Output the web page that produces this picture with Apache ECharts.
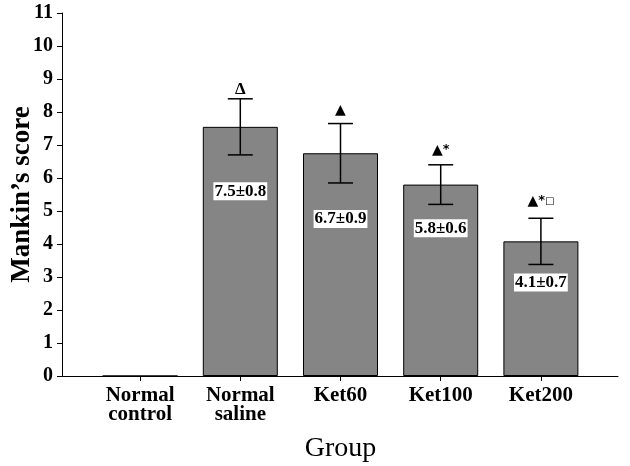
<!DOCTYPE html>
<html>
<head>
<meta charset="utf-8">
<script src="https://cdn.jsdelivr.net/npm/echarts@6/dist/echarts.min.js"></script>
<style>html,body{margin:0;padding:0;background:#fff}#c{width:630px;height:466px}</style>
</head>
<body>
<div id="c"></div>
<script>
const categories = ['Normal\ncontrol', 'Normal\nsaline', 'Ket60', 'Ket100', 'Ket200'];
const means = [0, 7.55, 6.75, 5.8, 4.08];
const errors = [0, 0.85, 0.9, 0.6, 0.7];
const meanLabels = ['', '7.5±0.8', '6.7±0.9', '5.8±0.6', '4.1±0.7'];
const meanLabelAt = [null, 5.6, 4.76, 4.48, 2.83];
const sigMarks = [[], ['d'], ['t'], ['t', 's'], ['t', 's', 'q']];
const sigMarkAt = [null, 8.68, 8.04, 6.85, 5.3];
const yMin = 0, yMax = 11, yStep = 1;

const serif = '"Liberation Serif", "Times New Roman", serif';
const chart = echarts.init(document.getElementById('c'), null, {renderer: 'canvas'});

const markText = { d: '{d|Δ}', t: '{t|▲}', s: '{s|*}', q: '{q|□}' };

const option = {
  animation: false,
  backgroundColor: '#fff',
  grid: [
    {left: 90, right: 39, top: 13, bottom: 90, outerBoundsMode: 'none', containLabel: false},
    {left: 62, right: 12, top: 13, bottom: 90, outerBoundsMode: 'none', containLabel: false}
  ],
  xAxis: [
    {
      type: 'category', gridIndex: 0, data: categories,
      axisLine: {show: false},
      axisTick: {show: true, alignWithLabel: true, length: 5, lineStyle: {color: '#000', width: 1}},
      axisLabel: {color: '#000', fontFamily: serif, fontSize: 21, fontWeight: 'bold', lineHeight: 19, margin: 10, interval: 0},
      name: 'Group', nameLocation: 'middle', nameGap: 59, nameMoveOverlap: false,
      nameTextStyle: {color: '#000', fontFamily: serif, fontSize: 28}
    },
    {
      type: 'value', gridIndex: 1, min: 0, max: 1,
      axisLine: {show: true, onZero: false, lineStyle: {color: '#000', width: 1}},
      axisTick: {show: false}, axisLabel: {show: false}, splitLine: {show: false}
    }
  ],
  yAxis: [
    {type: 'value', gridIndex: 0, min: yMin, max: yMax, interval: yStep, show: false},
    {
      type: 'value', gridIndex: 1, min: yMin, max: yMax, interval: yStep,
      axisLine: {show: true, lineStyle: {color: '#000', width: 1}},
      axisTick: {show: true, length: 5, lineStyle: {color: '#000', width: 1}},
      axisLabel: {color: '#000', fontFamily: serif, fontSize: 20, fontWeight: 'bold', margin: 9},
      splitLine: {show: false},
      name: 'Mankin’s score', nameLocation: 'middle', nameGap: 26, nameMoveOverlap: false,
      nameTextStyle: {color: '#000', fontFamily: serif, fontSize: 27, fontWeight: 'bold'}
    }
  ],
  series: [
    {
      type: 'bar', xAxisIndex: 0, yAxisIndex: 0, data: means, barWidth: 75,
      itemStyle: {color: '#858585', borderColor: '#000', borderWidth: 1},
      z: 2
    },
    {
      type: 'custom', xAxisIndex: 0, yAxisIndex: 0,
      data: categories.map((c, i) => [i, means[i], errors[i]]),
      renderItem: function (params, api) {
        const i = api.value(0), m = api.value(1), e = api.value(2);
        if (!e) return null;
        const top = api.coord([i, m + e]);
        const bot = api.coord([i, m - e]);
        const hw = 12.5;
        const st = {stroke: '#000', lineWidth: 1.5};
        return {type: 'group', children: [
          {type: 'line', shape: {x1: top[0], y1: top[1], x2: bot[0], y2: bot[1]}, style: st},
          {type: 'line', shape: {x1: top[0] - hw, y1: top[1], x2: top[0] + hw, y2: top[1]}, style: st},
          {type: 'line', shape: {x1: bot[0] - hw, y1: bot[1], x2: bot[0] + hw, y2: bot[1]}, style: st}
        ]};
      },
      z: 3
    },
    {
      type: 'scatter', xAxisIndex: 0, yAxisIndex: 0, symbolSize: 0,
      itemStyle: {opacity: 1},
      data: categories.map((c, i) => meanLabelAt[i] == null ? null : {value: [i, meanLabelAt[i]], name: meanLabels[i]}).filter(Boolean),
      label: {
        show: true, position: 'inside', formatter: p => p.name,
        color: '#000', fontFamily: serif, fontSize: 17, fontWeight: 'bold', backgroundColor: '#ffffff', padding: [1, 1, 0, 1]
      },
      emphasis: {disabled: true},
      z: 4
    },
    {
      type: 'scatter', xAxisIndex: 0, yAxisIndex: 0, symbolSize: 0,
      itemStyle: {opacity: 1},
      data: categories.map((c, i) => sigMarkAt[i] == null ? null : {value: [i, sigMarkAt[i]], name: sigMarks[i].map(k => markText[k]).join('')}).filter(Boolean),
      label: {
        show: true, position: 'inside', formatter: p => p.name, color: '#000',
        rich: {
          d: {fontFamily: serif, fontSize: 17, fontWeight: 'bold', color: '#000'},
          t: {fontFamily: '"DejaVu Sans", sans-serif', fontSize: 14, color: '#000'},
          s: {fontFamily: '"DejaVu Sans", sans-serif', fontSize: 13, fontWeight: 'bold', color: '#000', verticalAlign: 'top'},
          q: {fontFamily: '"DejaVu Sans", sans-serif', fontSize: 10, color: '#000'}
        }
      },
      emphasis: {disabled: true},
      z: 4
    }
  ]
};
chart.setOption(option);
</script>
</body>
</html>
